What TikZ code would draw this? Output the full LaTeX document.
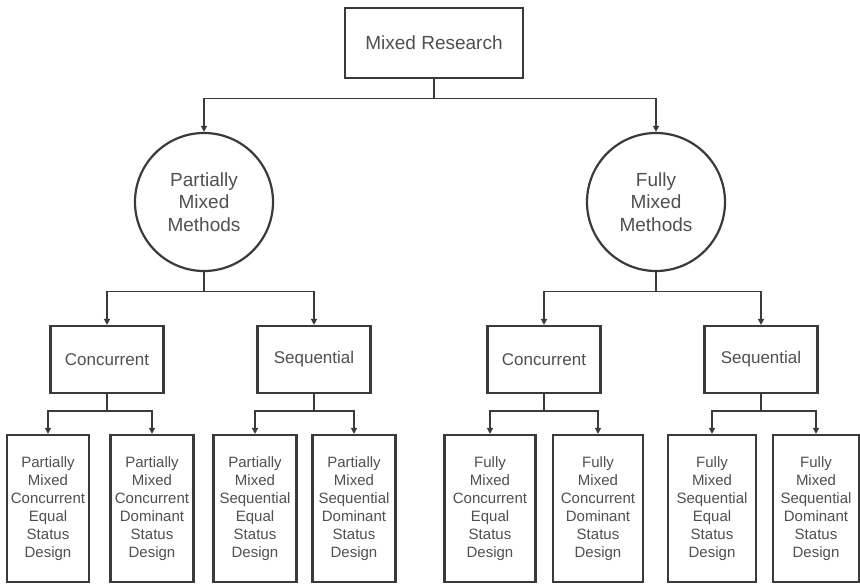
\documentclass[tikz,border=0pt]{standalone}
\usepackage{fontspec}
\setmainfont{Liberation Sans}
\usetikzlibrary{arrows.meta,shapes.geometric}
\definecolor{ink}{HTML}{3A3A3A}
\definecolor{txt}{HTML}{505050}
\begin{document}
\begin{tikzpicture}[x=1pt,y=-1pt,
  boxline/.style={draw=ink,line width=2.2pt,fill=white,text=txt,inner sep=0pt,align=center},
  topbox/.style={boxline,minimum width=178pt,minimum height=70pt,font=\fontsize{19}{22}\selectfont},
  methodcircle/.style={boxline,circle,minimum size=138pt,font=\fontsize{19}{22.5}\selectfont},
  timebox/.style={boxline,minimum width=113pt,minimum height=67pt,font=\fontsize{17}{20}\selectfont},
  designbox/.style={boxline,minimum height=147pt,font=\fontsize{15}{18}\selectfont},
  link/.style={draw=ink,line width=1.5pt,-{Triangle[length=6pt,width=6pt]}},
  trunk/.style={draw=ink,line width=1.5pt}]
\useasboundingbox (0,0) rectangle (860,584);

% root
\node[topbox] (root) at (434,43) {Mixed Research};

% method families
\node[methodcircle] (pm) at (204,202) {Partially\\Mixed\\Methods};
\node[methodcircle] (fm) at (656,202) {Fully\\Mixed\\Methods};

% timing boxes
\node[timebox] (pmc) at (107,359.5) {Concurrent};
\node[timebox] (pms) at (314,359.5) {Sequential};
\node[timebox] (fmc) at (544,359.5) {Concurrent};
\node[timebox] (fms) at (761,359.5) {Sequential};

% design boxes
\node[designbox,minimum width=82pt] (d1) at (48,508.5) {Partially\\Mixed\\Concurrent\\Equal\\Status\\Design};
\node[designbox,minimum width=83pt] (d2) at (152,508.5) {Partially\\Mixed\\Concurrent\\Dominant\\Status\\Design};
\node[designbox,minimum width=83pt] (d3) at (255,508.5) {Partially\\Mixed\\Sequential\\Equal\\Status\\Design};
\node[designbox,minimum width=83pt] (d4) at (354,508.5) {Partially\\Mixed\\Sequential\\Dominant\\Status\\Design};
\node[designbox,minimum width=91pt] (d5) at (490,508.5) {Fully\\Mixed\\Concurrent\\Equal\\Status\\Design};
\node[designbox,minimum width=90pt] (d6) at (598,508.5) {Fully\\Mixed\\Concurrent\\Dominant\\Status\\Design};
\node[designbox,minimum width=88pt] (d7) at (712,508.5) {Fully\\Mixed\\Sequential\\Equal\\Status\\Design};
\node[designbox,minimum width=86pt] (d8) at (816,508.5) {Fully\\Mixed\\Sequential\\Dominant\\Status\\Design};

% bus levels
\coordinate (bus0) at (0,98.5);
\coordinate (bus1) at (0,291.5);
\coordinate (bus2) at (0,411);

% connectors
\draw[trunk] (root.south) -- (root.south |- bus0);
\draw[link] (root.south |- bus0) -| (pm.north);
\draw[link] (root.south |- bus0) -| (fm.north);

\draw[trunk] (pm.south) -- (pm.south |- bus1);
\draw[link] (pm.south |- bus1) -| (pmc.north);
\draw[link] (pm.south |- bus1) -| (pms.north);
\draw[trunk] (fm.south) -- (fm.south |- bus1);
\draw[link] (fm.south |- bus1) -| (fmc.north);
\draw[link] (fm.south |- bus1) -| (fms.north);

\foreach \p/\a/\b in {pmc/d1/d2, pms/d3/d4, fmc/d5/d6, fms/d7/d8}{
  \draw[trunk] (\p.south) -- (\p.south |- bus2);
  \draw[link] (\p.south |- bus2) -| (\a.north);
  \draw[link] (\p.south |- bus2) -| (\b.north);
}
\end{tikzpicture}
\end{document}
